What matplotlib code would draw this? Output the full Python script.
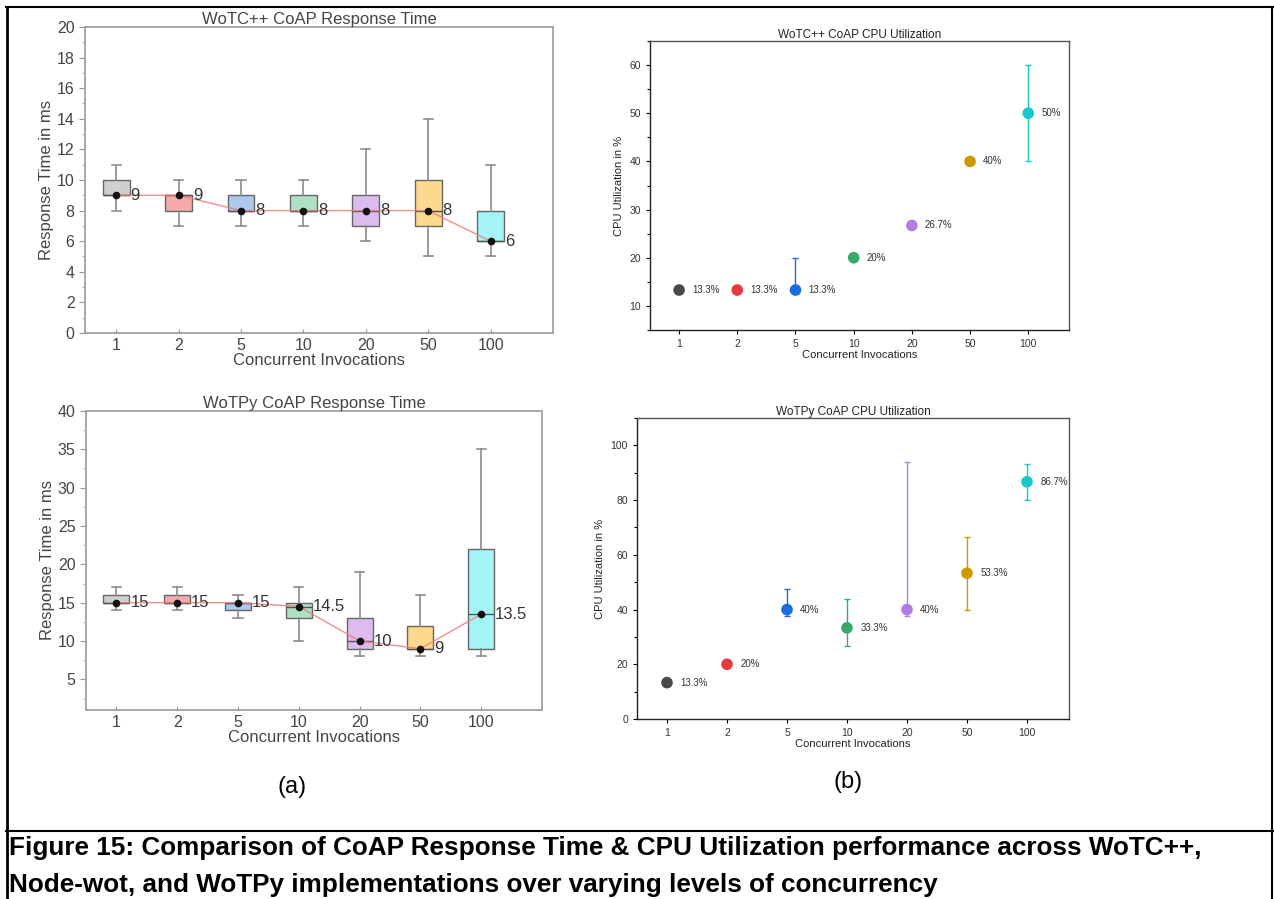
import matplotlib
matplotlib.use("Agg")
import matplotlib.pyplot as plt
from matplotlib.lines import Line2D
from matplotlib.ticker import MultipleLocator, AutoMinorLocator

plt.rcParams['font.family'] = ['Liberation Sans', 'DejaVu Sans']

W, H = 1274, 899

# categories (concurrent invocations)
cats = ['1', '2', '5', '10', '20', '50', '100']
pos = list(range(1, len(cats) + 1))

# response time box stats, WoTC++
cpp_med = [9, 9, 8, 8, 8, 8, 6]
cpp_q1 = [9, 8, 8, 8, 7, 7, 6]
cpp_q3 = [10, 9, 9, 9, 9, 10, 8]
cpp_lo = [8, 7, 7, 7, 6, 5, 5]
cpp_hi = [11, 10, 10, 10, 12, 14, 11]
cpp_lbl = ['9', '9', '8', '8', '8', '8', '6']

# response time box stats, WoTPy
py_med = [15, 15, 15, 14.5, 10, 9, 13.5]
py_q1 = [15, 15, 14, 13, 9, 9, 9]
py_q3 = [16, 16, 15, 15, 13, 12, 22]
py_lo = [14, 14, 13, 10, 8, 8, 8]
py_hi = [17, 17, 16, 17, 19, 16, 35]
py_lbl = ['15', '15', '15', '14.5', '10', '9', '13.5']

# cpu utilization
cpp_cpu = [13.3, 13.3, 13.3, 20, 26.7, 40, 50]
cpp_err_lo = [0, 0, 0, 0, 0, 0, 10]
cpp_err_hi = [0, 0, 6.7, 0, 0, 0, 10]
py_cpu = [13.3, 20, 40, 33.3, 40, 53.3, 86.7]
py_err_lo = [0, 0, 2.5, 6.6, 2.5, 13.3, 6.7]
py_err_hi = [0, 0, 7.5, 10.4, 53.8, 13.3, 6.6]

box_cols = ['#cfcfcf', '#f5abab', '#abc8ee', '#aee0c6', '#dcbcec', '#fcd98c', '#a3f3f7']
dot_cols = ['#494949', '#e8393f', '#1b6ce0', '#38a96a', '#b07de0', '#cc9a05', '#18c9cc']


def ax_px(l, t, r, b):
    return fig.add_axes([l / W, 1 - b / H, (r - l) / W, (b - t) / H])


def box_panel(ax, q1, med, q3, lo, hi, lbl, title, ylim, major):
    stats = []
    for i in range(len(cats)):
        stats.append(dict(med=med[i], q1=q1[i], q3=q3[i], whislo=lo[i], whishi=hi[i], fliers=[]))
    bp = ax.bxp(stats, positions=pos, widths=0.43, patch_artist=True, showfliers=False,
                boxprops=dict(edgecolor='#666666', linewidth=1.0),
                whiskerprops=dict(color='#8c8c8c', linewidth=1.2),
                capprops=dict(color='#8c8c8c', linewidth=1.2),
                medianprops=dict(color='#555555', linewidth=1.0),
                capwidths=0.15)
    for patch, c in zip(bp['boxes'], box_cols):
        patch.set_facecolor(c)
    ax.plot(pos, med, color='#f07c7c', lw=1.0, alpha=0.85, zorder=4)
    ax.plot(pos, med, 'o', color='#111111', ms=4.5, zorder=5)
    for x, m, s in zip(pos, med, lbl):
        ax.text(x + 0.23, m, s, ha='left', va='center', fontsize=12, color='#333333', zorder=6)
    ax.set_xlim(0.5, 8.0)
    ax.set_ylim(*ylim)
    ax.yaxis.set_major_locator(MultipleLocator(major))
    ax.yaxis.set_minor_locator(AutoMinorLocator(2))
    ax.set_xticks(pos)
    ax.set_xticklabels(cats)
    ax.set_title(title, fontsize=12, color='#444444', pad=2)
    ax.set_xlabel('Concurrent Invocations', fontsize=12, color='#444444', labelpad=0)
    ax.set_ylabel('Response Time in ms', fontsize=12, color='#444444', labelpad=2)
    ax.tick_params(axis='both', colors='#999999', labelcolor='#444444', labelsize=11.5, length=4)
    ax.tick_params(axis='x', direction='in', length=3)
    ax.tick_params(axis='y', which='minor', colors='#999999', length=2)
    for sp in ax.spines.values():
        sp.set_color('#a0a0a0')
        sp.set_linewidth(1.3)


def cpu_panel(ax, vals, elo, ehi, title, ylim, major):
    for x, v, a, b, c in zip(pos, vals, elo, ehi, dot_cols):
        if a or b:
            ax.errorbar([x], [v], yerr=[[a], [b]], fmt='none', ecolor=c, elinewidth=1.0,
                        capsize=2, capthick=1.0, zorder=2)
    ax.scatter(pos, vals, s=70, c=dot_cols, zorder=3, linewidths=0)
    for x, v in zip(pos, vals):
        ax.text(x + 0.22, v, f'{v:g}%', ha='left', va='center', fontsize=7, color='#333333')
    ax.set_xlim(0.5, 7.7)
    ax.set_ylim(*ylim)
    ax.yaxis.set_major_locator(MultipleLocator(major))
    ax.yaxis.set_minor_locator(AutoMinorLocator(2))
    ax.set_xticks(pos)
    ax.set_xticklabels(cats)
    ax.set_title(title, fontsize=8.5, color='#222222', pad=2)
    ax.set_xlabel('Concurrent Invocations', fontsize=8, color='#222222', labelpad=1)
    ax.set_ylabel('CPU Utilization in %', fontsize=8, color='#222222', labelpad=4)
    ax.tick_params(axis='both', labelsize=7.5, labelcolor='#333333', length=3, width=0.8)
    ax.tick_params(axis='y', which='minor', length=2, width=0.8)
    for sp in ax.spines.values():
        sp.set_linewidth(1.0)
        sp.set_color('#222222')
    ax.spines['top'].set_color('#555555')
    ax.spines['right'].set_color('#555555')


fig = plt.figure(figsize=(W / 100, H / 100), dpi=100)

ax1 = ax_px(85, 27, 553, 333)
box_panel(ax1, cpp_q1, cpp_med, cpp_q3, cpp_lo, cpp_hi, cpp_lbl,
          'WoTC++ CoAP Response Time', (0, 20), 2)

ax2 = ax_px(86, 411, 542, 710)
box_panel(ax2, py_q1, py_med, py_q3, py_lo, py_hi, py_lbl,
          'WoTPy CoAP Response Time', (1, 40), 5)

ax3 = ax_px(650, 41, 1069, 330)
cpu_panel(ax3, cpp_cpu, cpp_err_lo, cpp_err_hi, 'WoTC++ CoAP CPU Utilization', (5, 65), 10)

ax4 = ax_px(637, 418, 1069, 719)
cpu_panel(ax4, py_cpu, py_err_lo, py_err_hi, 'WoTPy CoAP CPU Utilization', (0, 110), 20)

# sub-figure labels
fig.text(292 / W, 1 - 787 / H, '(a)', ha='center', va='center', fontsize=17)
fig.text(848 / W, 1 - 782 / H, '(b)', ha='center', va='center', fontsize=17)

# caption
fig.text(9 / W, 1 - 855 / H,
         'Figure 15: Comparison of CoAP Response Time & CPU Utilization performance across WoTC++,',
         ha='left', va='baseline', fontsize=18.8, fontweight='bold')
fig.text(9 / W, 1 - 892 / H,
         'Node-wot, and WoTPy implementations over varying levels of concurrency',
         ha='left', va='baseline', fontsize=18.8, fontweight='bold')

# table frame lines
def hline(y, x0, x1, lw=1.5):
    fig.add_artist(Line2D([x0 / W, x1 / W], [1 - y / H, 1 - y / H], color='black', lw=lw))

def vline(x, y0, y1, lw=1.5):
    fig.add_artist(Line2D([x / W, x / W], [1 - y0 / H, 1 - y1 / H], color='black', lw=lw))

hline(7, 6, W)
hline(831, 6, W)
vline(7, 7, H, lw=2)
vline(1272, 7, H)

fig.savefig('out.png', dpi=100)
